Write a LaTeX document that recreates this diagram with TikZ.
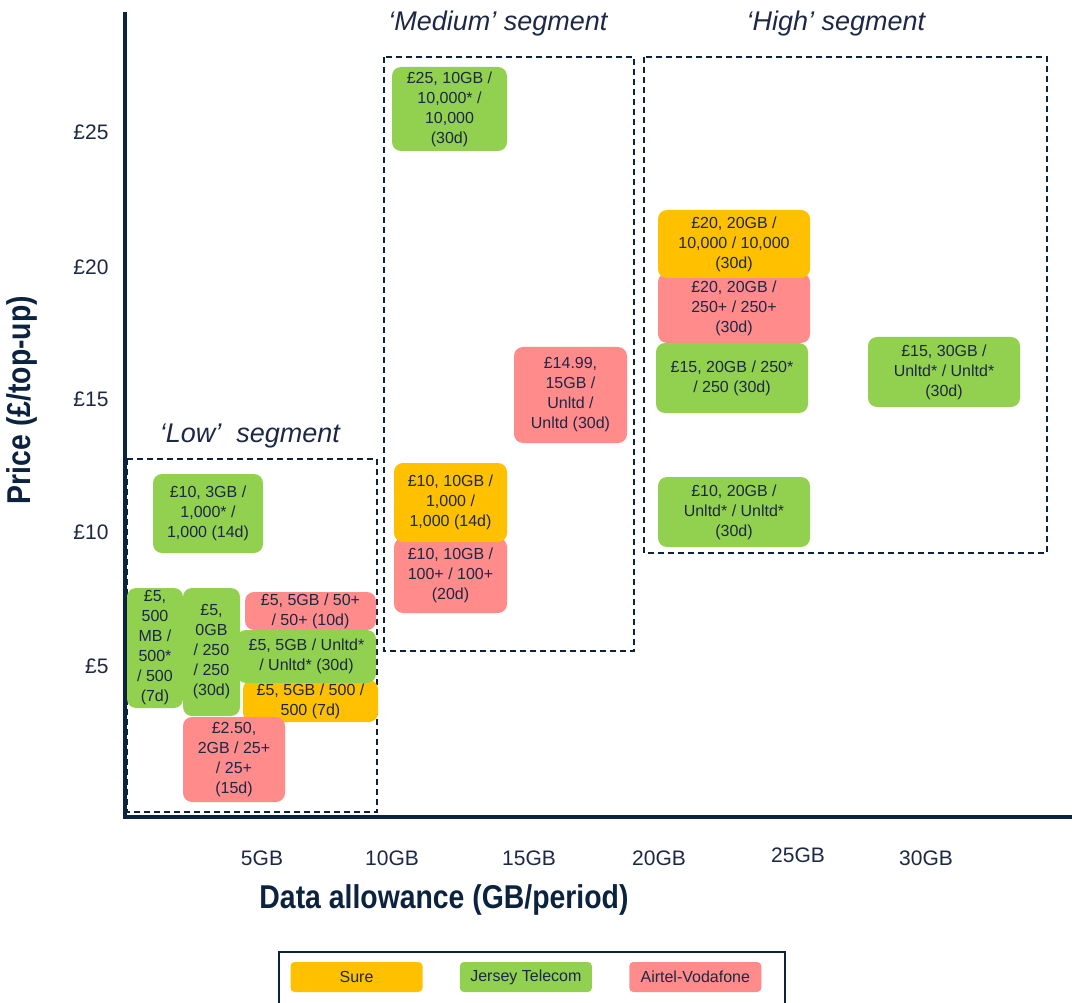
\documentclass[tikz,border=0pt]{standalone}
\usepackage{fontspec}
\setmainfont{Liberation Sans}
\usepackage{graphicx}
\usepackage{tikz}
\usetikzlibrary{positioning}
\definecolor{sureorange}{HTML}{FFC000}
\definecolor{jtgreen}{HTML}{92D050}
\definecolor{avpink}{HTML}{FF8B8B}
\definecolor{navy}{HTML}{0C2340}
\definecolor{textnavy}{HTML}{1C2845}

\begin{document}
\begin{tikzpicture}[x=1pt, y=-1pt,
    offer/.style={rounded corners=9pt, text=textnavy, align=center, inner sep=0pt,
        font=\fontsize{16}{20}\selectfont},
    sz/.style 2 args={minimum width=#1pt, minimum height=#2pt},
    sure/.style={offer, fill=sureorange},
    jt/.style={offer, fill=jtgreen},
    airtel/.style={offer, fill=avpink},
    segbox/.style={draw=navy, line width=2pt, dash pattern=on 6pt off 4pt},
    segtitle/.style={text=textnavy, font=\fontsize{27}{30}\selectfont\itshape},
    ticklabel/.style={text=textnavy, font=\fontsize{21}{24}\selectfont},
    axislabel/.style={text=navy, font=\fontsize{33}{36}\selectfont\bfseries},
    legkey/.style={rounded corners=4pt, text=textnavy, inner sep=0pt,
        minimum width=132pt, minimum height=30pt, font=\fontsize{16}{20}\selectfont}]
    \useasboundingbox (0,0) rectangle (1072,1003);

    % axes
    \coordinate (origin) at (125,817);
    \coordinate (ytop) at (125,12);
    \coordinate (xend) at (1072,817);
    \draw [navy, line width=4.5pt] (ytop) -- (origin) -- (xend);

    \foreach \p/\yy in {25/132, 20/267, 15/399, 10/532, 5/666}
        \node [ticklabel, anchor=east] (ytick\p) at (112,\yy) {£\p};
    \foreach \g/\xx/\yy in {5/262/858, 10/392/858, 15/529/858, 20/659/858, 25/798/855, 30/926/858}
        \node [ticklabel] (xtick\g) at (\xx,\yy) {\g GB};

    \node [axislabel, rotate=90] (ylabel) at (22,400) {\scalebox{0.86}[1]{Price (£/top-up)}};
    \node [axislabel] (xlabel) at (444,900) {\scalebox{0.86}[1]{Data allowance (GB/period)}};

    % segments
    \draw [segbox] (127,459) rectangle (377,812);
    \draw [segbox] (384,57) rectangle (634,651);
    \draw [segbox] (644,57) rectangle (1047,553);
    \node [segtitle] (lowtitle) at (250,436) {‘Low’ \ segment};
    \node [segtitle] (medtitle) at (498,24) {‘Medium’ segment};
    \node [segtitle] (hightitle) at (836,24) {‘High’ segment};

    % low segment offers
    \node [jt, sz={110}{79}] (jt10a) at (208,513.5) {£10, 3GB /\\1,000* /\\1,000 (14d)};
    \node [jt, sz={56}{120}] (jt5a) at (155,648) {£5,\\500\\MB /\\500*\\/ 500\\(7d)};
    \node [airtel, sz={131}{38}] (av5) at (310.5,611) {£5, 5GB / 50+\\/ 50+ (10d)};
    \node [sure, sz={135}{42}] (su5) at (310.5,701) {£5, 5GB / 500 /\\500 (7d)};
    \node [jt, sz={139}{53}] (jt5c) at (306.5,656.5) {£5, 5GB / Unltd*\\/ Unltd* (30d)};
    \node [jt, sz={57}{128}] (jt5b) at (211.5,652) {£5,\\0GB\\/ 250\\/ 250\\(30d)};
    \node [airtel, sz={102}{85}] (av250) at (234,759.5) {£2.50,\\2GB / 25+\\/ 25+\\(15d)};

    % medium segment offers
    \node [jt, sz={115}{84}] (jt25) at (449.5,109) {£25, 10GB /\\10,000* /\\10,000\\(30d)};
    \node [airtel, sz={113}{96}] (av1499) at (570.5,395) {£14.99,\\15GB /\\Unltd /\\Unltd (30d)};
    \node [airtel, sz={113}{75}] (av10) at (450.5,575.5) {£10, 10GB /\\100+ / 100+\\(20d)};
    \node [sure, sz={113}{79}] (su10) at (450.5,502.5) {£10, 10GB /\\1,000 /\\1,000 (14d)};

    % high segment offers
    \node [airtel, sz={152}{70}] (av20) at (734,308) {£20, 20GB /\\250+ / 250+\\(30d)};
    \node [sure, sz={152}{68}] (su20) at (734,244) {£20, 20GB /\\10,000 / 10,000\\(30d)};
    \node [jt, sz={152}{70}] (jt15a) at (732,378) {£15, 20GB / 250*\\/ 250 (30d)};
    \node [jt, sz={152}{70}] (jt15b) at (944,372) {£15, 30GB /\\Unltd* / Unltd*\\(30d)};
    \node [jt, sz={152}{70}] (jt10b) at (734,512) {£10, 20GB /\\Unltd* / Unltd*\\(30d)};

    % legend
    \draw [navy, line width=1.5pt] (279,1010) -- (279,952) -- (785,952) -- (785,1010);
    \node [legkey, fill=sureorange] (legsure) at (356.5,977) {Sure};
    \node [legkey, fill=jtgreen, right=37pt of legsure] (legjt) {Jersey Telecom};
    \node [legkey, fill=avpink, right=37pt of legjt] (legairtel) {Airtel-Vodafone};
\end{tikzpicture}
\end{document}
